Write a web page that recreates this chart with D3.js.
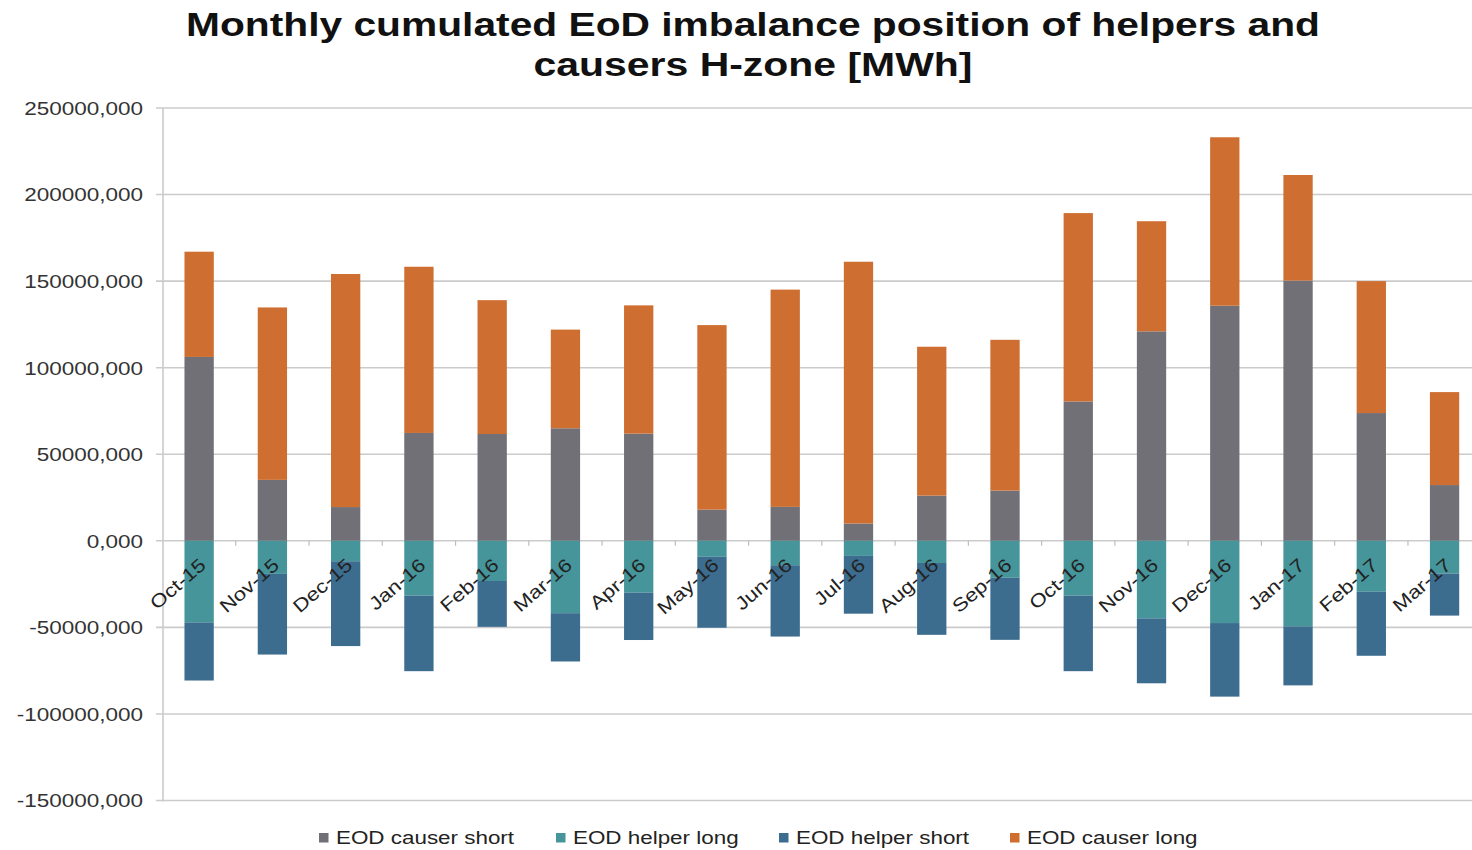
<!DOCTYPE html>
<html>
<head>
<meta charset="utf-8">
<script src="https://cdn.jsdelivr.net/npm/d3@7"></script>
<style>
  html, body { margin: 0; padding: 0; background: #ffffff; }
  svg { display: block; font-family: "Liberation Sans", Arial, sans-serif; }
</style>
</head>
<body>
<svg id="chart" width="1472" height="850"></svg>
<script>
// ---- data (MWh) ----
const categories = ["Oct-15","Nov-15","Dec-15","Jan-16","Feb-16","Mar-16","Apr-16","May-16","Jun-16",
                    "Jul-16","Aug-16","Sep-16","Oct-16","Nov-16","Dec-16","Jan-17","Feb-17","Mar-17"];
const causerShort = [106200, 35200, 19500, 62300, 61700, 65000, 61900, 18000, 19600,
                     10000, 26100, 29000, 80500, 121000, 135800, 150300, 73800, 32200];
const causerLong  = [60800, 99600, 134600, 96000, 77300, 57000, 74100, 106600, 125500,
                     151200, 86000, 87100, 108800, 63600, 97300, 61000, 76200, 53700];
const helperLong  = [-47100, -19100, -11800, -31700, -23200, -41800, -29900, -9200, -14100,
                     -8700, -12800, -21300, -31700, -44800, -47500, -49400, -29400, -18900];
const helperShort = [-33600, -46600, -49000, -43600, -26500, -27900, -27400, -41000, -41200,
                     -33400, -41500, -35900, -43600, -37500, -42500, -34100, -37000, -24300];
const yTickValues = [-150000, -100000, -50000, 0, 50000, 100000, 150000, 200000, 250000];
const seriesNames = ["EOD causer short", "EOD helper long", "EOD helper short", "EOD causer long"];
const seriesKeys  = ["causerShort", "helperLong", "helperShort", "causerLong"];
const seriesColors = ["#717076", "#45959b", "#3c6d8f", "#ce6e31"];
const titleLines = ["Monthly cumulated EoD imbalance position of helpers and", "causers H-zone [MWh]"];

// ---- build table ----
const table = categories.map((c, i) => ({
  cat: c,
  causerShort: causerShort[i],
  causerLong: causerLong[i],
  helperLong: helperLong[i],
  helperShort: helperShort[i]
}));

const svg = d3.select("#chart");
const W = 1472;

const x = d3.scaleBand().domain(categories).range([162.5, 1481.2]).paddingInner(0.6).paddingOuter(0.3);
const y = d3.scaleLinear().domain([-150000, 250000]).range([800.5, 108]);

function stretch(sel, factor) {
  sel.each(function() {
    const len = this.getComputedTextLength();
    d3.select(this).attr("textLength", len * factor).attr("lengthAdjust", "spacingAndGlyphs");
  });
}

// gridlines
svg.append("g").selectAll("line").data(yTickValues).join("line")
  .attr("x1", 156).attr("x2", W)
  .attr("y1", d => y(d)).attr("y2", d => y(d))
  .attr("stroke", "#cbcbcb").attr("stroke-width", 1.6);

// y axis line
svg.append("line").attr("x1", 163).attr("x2", 163).attr("y1", y(250000)).attr("y2", y(-150000) + 1)
  .attr("stroke", "#cbcbcb").attr("stroke-width", 1.6);

// category ticks on zero line
const bounds = d3.range(1, categories.length).map(i => x.range()[0] + i * x.step());
svg.append("g").selectAll("line").data(bounds).join("line")
  .attr("x1", d => d).attr("x2", d => d)
  .attr("y1", y(0)).attr("y2", y(0) + 5)
  .attr("stroke", "#bdbdbd").attr("stroke-width", 1.2);

// y axis labels
const locale = d3.formatLocale({decimal: ",", thousands: "", grouping: [3], currency: ["", ""], minus: "-"});
const fmt = locale.format(".3f");
const yAxis = d3.axisLeft(y).tickValues(yTickValues).tickFormat(fmt).tickSize(0).tickPadding(0);
const yg = svg.append("g").attr("transform", "translate(143,0)").call(yAxis);
yg.select(".domain").remove();
yg.selectAll("text").attr("font-size", 18).attr("fill", "#333").attr("font-family", "Liberation Sans, Arial, sans-serif")
  .attr("dy", "0.35em");
stretch(yg.selectAll("text"), 1.25);

// bars
const stack = d3.stack().keys(seriesKeys).offset(d3.stackOffsetDiverging);
const stacked = stack(table);
svg.append("g").selectAll("g").data(stacked).join("g")
  .attr("fill", (d, i) => seriesColors[i])
  .selectAll("rect").data(d => d).join("rect")
  .attr("x", d => x(d.data.cat))
  .attr("width", x.bandwidth())
  .attr("y", d => y(Math.max(d[0], d[1])))
  .attr("height", d => Math.abs(y(d[0]) - y(d[1])));

// category labels
const cl = svg.append("g").selectAll("text").data(categories).join("text")
  .attr("transform", d => `translate(${x(d) + x.bandwidth() / 2 + 8},${y(0) + 26}) rotate(-41)`)
  .attr("text-anchor", "end")
  .attr("font-size", 18.5).attr("fill", "#222")
  .text(d => d);
stretch(cl, 1.2);

// title
const tw = [1134, 439];
svg.append("g").selectAll("text").data(titleLines).join("text")
  .attr("x", 753).attr("y", (d, i) => 36 + i * 40)
  .attr("text-anchor", "middle")
  .attr("font-size", 34).attr("font-weight", "bold").attr("fill", "#111")
  .attr("textLength", (d, i) => tw[i]).attr("lengthAdjust", "spacingAndGlyphs")
  .text(d => d);

// legend
const legX = [319, 556, 779, 1010];
const leg = svg.append("g").selectAll("g").data(seriesNames).join("g")
  .attr("transform", (d, i) => `translate(${legX[i]},833)`);
leg.append("rect").attr("width", 9.5).attr("height", 9.5).attr("fill", (d, i) => seriesColors[i]);
const lt = leg.append("text").attr("x", 17).attr("y", 11).attr("font-size", 17.5).attr("fill", "#222").text(d => d);
stretch(lt, 1.28);
</script>
</body>
</html>
